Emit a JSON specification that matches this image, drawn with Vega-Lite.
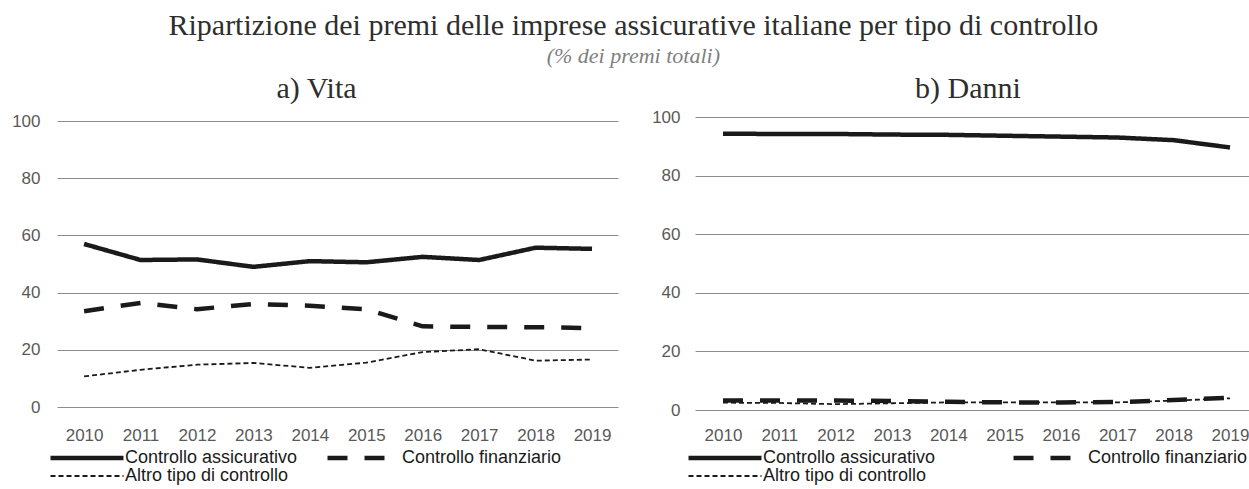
{
  "$schema": "https://vega.github.io/schema/vega-lite/v6.json",
  "background": "white",
  "padding": {"left": 11, "top": 11, "right": 0, "bottom": 0},
  "title": {
    "text": "Ripartizione dei premi delle imprese assicurative italiane per tipo di controllo",
    "subtitle": "(% dei premi totali)",
    "anchor": "middle",
    "dx": 2,
    "font": "Liberation Serif",
    "fontSize": 30,
    "fontWeight": "normal",
    "color": "#2e2e2e",
    "subtitleFont": "Liberation Serif",
    "subtitleFontStyle": "italic",
    "subtitleFontSize": 22,
    "subtitleColor": "#808080",
    "subtitlePadding": 5,
    "offset": 7
  },
  "datasets": {
    "vita": [
      {"anno": 2010, "tipo": "Controllo assicurativo", "valore": 57.0},
      {"anno": 2011, "tipo": "Controllo assicurativo", "valore": 51.4},
      {"anno": 2012, "tipo": "Controllo assicurativo", "valore": 51.6},
      {"anno": 2013, "tipo": "Controllo assicurativo", "valore": 49.0},
      {"anno": 2014, "tipo": "Controllo assicurativo", "valore": 51.0},
      {"anno": 2015, "tipo": "Controllo assicurativo", "valore": 50.6},
      {"anno": 2016, "tipo": "Controllo assicurativo", "valore": 52.5},
      {"anno": 2017, "tipo": "Controllo assicurativo", "valore": 51.4},
      {"anno": 2018, "tipo": "Controllo assicurativo", "valore": 55.7},
      {"anno": 2019, "tipo": "Controllo assicurativo", "valore": 55.3},
      {"anno": 2010, "tipo": "Controllo finanziario", "valore": 33.5},
      {"anno": 2011, "tipo": "Controllo finanziario", "valore": 36.4},
      {"anno": 2012, "tipo": "Controllo finanziario", "valore": 34.2},
      {"anno": 2013, "tipo": "Controllo finanziario", "valore": 36.0},
      {"anno": 2014, "tipo": "Controllo finanziario", "valore": 35.4},
      {"anno": 2015, "tipo": "Controllo finanziario", "valore": 34.2},
      {"anno": 2016, "tipo": "Controllo finanziario", "valore": 28.2},
      {"anno": 2017, "tipo": "Controllo finanziario", "valore": 28.0},
      {"anno": 2018, "tipo": "Controllo finanziario", "valore": 27.9},
      {"anno": 2019, "tipo": "Controllo finanziario", "valore": 27.6},
      {"anno": 2010, "tipo": "Altro tipo di controllo", "valore": 10.7},
      {"anno": 2011, "tipo": "Altro tipo di controllo", "valore": 13.0},
      {"anno": 2012, "tipo": "Altro tipo di controllo", "valore": 14.8},
      {"anno": 2013, "tipo": "Altro tipo di controllo", "valore": 15.4},
      {"anno": 2014, "tipo": "Altro tipo di controllo", "valore": 13.7},
      {"anno": 2015, "tipo": "Altro tipo di controllo", "valore": 15.5},
      {"anno": 2016, "tipo": "Altro tipo di controllo", "valore": 19.2},
      {"anno": 2017, "tipo": "Altro tipo di controllo", "valore": 20.2},
      {"anno": 2018, "tipo": "Altro tipo di controllo", "valore": 16.2},
      {"anno": 2019, "tipo": "Altro tipo di controllo", "valore": 16.6}
    ],
    "danni": [
      {"anno": 2010, "tipo": "Controllo assicurativo", "valore": 94.3},
      {"anno": 2011, "tipo": "Controllo assicurativo", "valore": 94.2},
      {"anno": 2012, "tipo": "Controllo assicurativo", "valore": 94.2},
      {"anno": 2013, "tipo": "Controllo assicurativo", "valore": 94.0},
      {"anno": 2014, "tipo": "Controllo assicurativo", "valore": 93.9},
      {"anno": 2015, "tipo": "Controllo assicurativo", "valore": 93.6},
      {"anno": 2016, "tipo": "Controllo assicurativo", "valore": 93.3},
      {"anno": 2017, "tipo": "Controllo assicurativo", "valore": 93.0},
      {"anno": 2018, "tipo": "Controllo assicurativo", "valore": 92.1},
      {"anno": 2019, "tipo": "Controllo assicurativo", "valore": 89.6},
      {"anno": 2010, "tipo": "Controllo finanziario", "valore": 3.2},
      {"anno": 2011, "tipo": "Controllo finanziario", "valore": 3.2},
      {"anno": 2012, "tipo": "Controllo finanziario", "valore": 3.2},
      {"anno": 2013, "tipo": "Controllo finanziario", "valore": 3.1},
      {"anno": 2014, "tipo": "Controllo finanziario", "valore": 2.8},
      {"anno": 2015, "tipo": "Controllo finanziario", "valore": 2.6},
      {"anno": 2016, "tipo": "Controllo finanziario", "valore": 2.6},
      {"anno": 2017, "tipo": "Controllo finanziario", "valore": 2.7},
      {"anno": 2018, "tipo": "Controllo finanziario", "valore": 3.4},
      {"anno": 2019, "tipo": "Controllo finanziario", "valore": 4.2},
      {"anno": 2010, "tipo": "Altro tipo di controllo", "valore": 2.5},
      {"anno": 2011, "tipo": "Altro tipo di controllo", "valore": 2.4},
      {"anno": 2012, "tipo": "Altro tipo di controllo", "valore": 2.0},
      {"anno": 2013, "tipo": "Altro tipo di controllo", "valore": 2.3},
      {"anno": 2014, "tipo": "Altro tipo di controllo", "valore": 2.6},
      {"anno": 2015, "tipo": "Altro tipo di controllo", "valore": 2.6},
      {"anno": 2016, "tipo": "Altro tipo di controllo", "valore": 2.6},
      {"anno": 2017, "tipo": "Altro tipo di controllo", "valore": 2.6},
      {"anno": 2018, "tipo": "Altro tipo di controllo", "valore": 3.2},
      {"anno": 2019, "tipo": "Altro tipo di controllo", "valore": 4.0}
    ]
  },
  "spacing": 33,
  "resolve": {"scale": {"strokeDash": "independent"}, "legend": {"strokeDash": "independent"}},
  "hconcat": [
    {
      "width": 561,
      "height": 290,
      "data": {"name": "vita"},
      "title": {"text": "a) Vita", "font": "Liberation Serif", "fontSize": 30, "fontWeight": "normal", "color": "#2e2e2e", "anchor": "middle", "dx": -21, "offset": 8},
      "mark": {"type": "line", "color": "#1a1a1a", "strokeJoin": "round"},
      "encoding": {
        "x": {"field": "anno", "type": "quantitative", "scale": {"domain": [2009.52, 2019.46], "nice": false, "zero": false},
          "axis": {"values": [2010, 2011, 2012, 2013, 2014, 2015, 2016, 2017, 2018, 2019], "format": "d", "title": null, "grid": false, "ticks": false, "domain": false, "labelPadding": 20, "labelFlush": false}},
        "y": {"field": "valore", "type": "quantitative", "scale": {"domain": [0, 101.4], "nice": false},
          "axis": {"values": [0, 20, 40, 60, 80, 100], "title": null, "grid": true, "ticks": false, "domain": false, "labelPadding": 17}},
        "strokeDash": {"field": "tipo", "type": "nominal",
          "scale": {"domain": ["Controllo assicurativo", "Controllo finanziario", "Altro tipo di controllo"], "range": [[1, 0], [20, 17], [5, 3]]},
          "legend": {"title": null, "orient": "none", "legendX": 21, "legendY": 332, "direction": "horizontal", "columns": 2, "columnPadding": 20, "rowPadding": 0,
            "symbolType": "stroke", "symbolSize": 5329, "symbolStrokeColor": "#1a1a1a", "symbolStrokeWidth": 4.5,
            "labelFont": "Liberation Sans", "labelFontSize": 18, "labelColor": "#1a1a1a", "labelOffset": 29, "labelLimit": 300, "padding": 0,
            "encode": {"symbols": {"update": {"strokeWidth": {"signal": "datum.value === 'Altro tipo di controllo' ? 1.8 : 4.5"}}}}}},
        "strokeWidth": {"condition": {"test": "datum.tipo === 'Altro tipo di controllo'", "value": 1.8}, "value": 4.5}
      }
    },
    {
      "width": 556,
      "height": 293,
      "data": {"name": "danni"},
      "title": {"text": "b) Danni", "font": "Liberation Serif", "fontSize": 30, "fontWeight": "normal", "color": "#2e2e2e", "anchor": "middle", "dx": -5, "offset": 4},
      "mark": {"type": "line", "color": "#1a1a1a", "strokeJoin": "round"},
      "encoding": {
        "x": {"field": "anno", "type": "quantitative", "scale": {"domain": [2009.503, 2019.373], "nice": false, "zero": false},
          "axis": {"values": [2010, 2011, 2012, 2013, 2014, 2015, 2016, 2017, 2018, 2019], "format": "d", "title": null, "grid": false, "ticks": false, "domain": false, "labelPadding": 17, "labelFlush": false}},
        "y": {"field": "valore", "type": "quantitative", "scale": {"domain": [0, 100], "nice": false},
          "axis": {"values": [0, 20, 40, 60, 80, 100], "title": null, "grid": true, "ticks": false, "domain": false, "labelPadding": 15}},
        "strokeDash": {"field": "tipo", "type": "nominal",
          "scale": {"domain": ["Controllo assicurativo", "Controllo finanziario", "Altro tipo di controllo"], "range": [[1, 0], [20, 17], [5, 3]]},
          "legend": {"title": null, "orient": "none", "legendX": 21, "legendY": 332, "direction": "horizontal", "columns": 2, "columnPadding": 68, "rowPadding": 0,
            "symbolType": "stroke", "symbolSize": 5329, "symbolStrokeColor": "#1a1a1a", "symbolStrokeWidth": 4.5,
            "labelFont": "Liberation Sans", "labelFontSize": 18, "labelColor": "#1a1a1a", "labelOffset": 29, "labelLimit": 300, "padding": 0,
            "encode": {"symbols": {"update": {"strokeWidth": {"signal": "datum.value === 'Altro tipo di controllo' ? 1.8 : 4.5"}}}}}},
        "strokeWidth": {"condition": {"test": "datum.tipo === 'Altro tipo di controllo'", "value": 1.8}, "value": 4.5}
      }
    }
  ],
  "config": {
    "view": {"stroke": null},
    "axis": {"labelFont": "Liberation Sans", "labelFontSize": 17, "labelColor": "#595959", "gridColor": "#8c8c8c", "gridWidth": 1, "gridOpacity": 1}
  }
}
